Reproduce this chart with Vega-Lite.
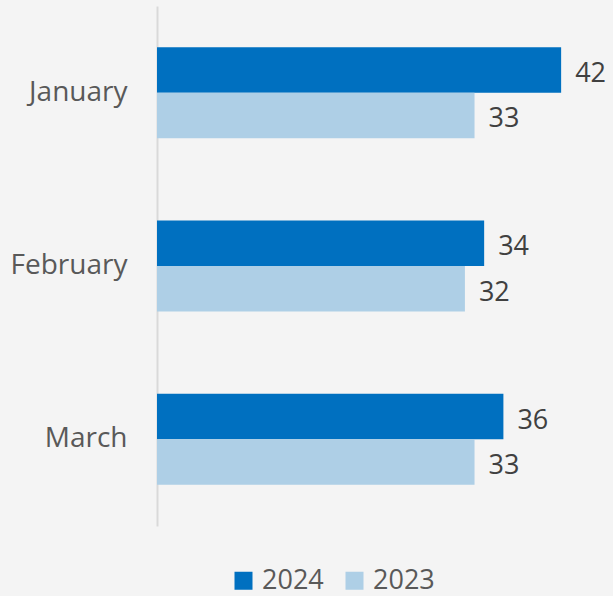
{
  "$schema": "https://vega.github.io/schema/vega-lite/v6.json",
  "width": 433,
  "height": 520,
  "autosize": {"type": "none"},
  "padding": {"left": 157, "top": 6, "right": 23, "bottom": 70},
  "background": "#f4f4f4",
  "config": {
    "view": {"stroke": null},
    "font": "Open Sans"
  },
  "data": {
    "values": [
      {"month": "January", "year": "2024", "value": 42},
      {"month": "January", "year": "2023", "value": 33},
      {"month": "February", "year": "2024", "value": 34},
      {"month": "February", "year": "2023", "value": 32},
      {"month": "March", "year": "2024", "value": 36},
      {"month": "March", "year": "2023", "value": 33}
    ]
  },
  "encoding": {
    "y": {
      "field": "month",
      "type": "nominal",
      "sort": ["January", "February", "March"],
      "scale": {"paddingInner": 0.475, "paddingOuter": 0.2375},
      "axis": {
        "title": null,
        "ticks": false,
        "domainColor": "#d9d9d9",
        "domainWidth": 2,
        "labelFontSize": 28,
        "labelColor": "#595959",
        "labelPadding": 30,
        "labelFont": "Open Sans"
      }
    },
    "yOffset": {
      "field": "year",
      "type": "nominal",
      "sort": ["2024", "2023"],
      "scale": {"paddingInner": 0, "paddingOuter": 0}
    },
    "x": {
      "field": "value",
      "type": "quantitative",
      "scale": {"domain": [0, 45]},
      "axis": null
    }
  },
  "layer": [
    {
      "mark": {"type": "bar"},
      "encoding": {
        "color": {
          "field": "year",
          "type": "nominal",
          "sort": ["2024", "2023"],
          "scale": {"domain": ["2024", "2023"], "range": ["#0070c0", "#aecfe6"]},
          "legend": {
            "title": null,
            "orient": "none",
            "direction": "horizontal",
            "legendX": 73,
            "legendY": 561,
            "symbolType": "square",
            "symbolSize": 324,
            "symbolOpacity": 1,
            "symbolStrokeWidth": 0,
            "labelFontSize": 27,
            "labelColor": "#595959",
            "labelOffset": 5,
            "columnPadding": 17,
            "labelFont": "Open Sans"
          }
        }
      }
    },
    {
      "mark": {"type": "text", "align": "left", "baseline": "middle", "dx": 14, "dy": 4, "fontSize": 27, "color": "#404040"},
      "encoding": {
        "text": {"field": "value", "type": "quantitative"}
      }
    }
  ]
}
